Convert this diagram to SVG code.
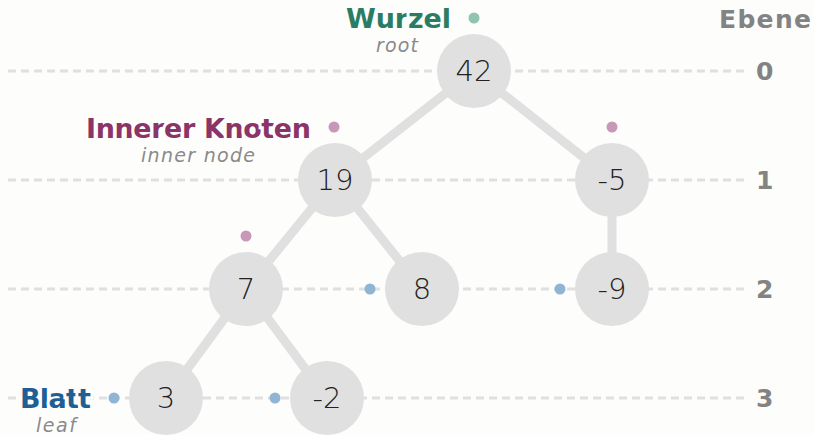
<svg xmlns="http://www.w3.org/2000/svg" width="814" height="435" viewBox="0 0 814 435">
  <style>
    .bg { fill: #fdfdfc; }
    .level { stroke: #e0e0e0; stroke-width: 3; stroke-dasharray: 8 5; fill: none; }
    .edge { stroke: #e0e0e0; stroke-width: 9; stroke-linecap: round; fill: none; }
    .node circle { fill: #e0e0e0; }
    .node text { font-family: "DejaVu Sans", "Liberation Sans", sans-serif; font-weight: 200; font-size: 29px; fill: #222; text-anchor: middle; dominant-baseline: central; }
    .lvl { font-family: "DejaVu Sans", "Liberation Sans", sans-serif; font-weight: bold; font-size: 25px; fill: #838383; dominant-baseline: central; }
    .title { font-family: "DejaVu Sans", "Liberation Sans", sans-serif; font-weight: bold; font-size: 27px; paint-order: stroke; stroke: #fdfdfc; stroke-width: 6px; }
    .sub { font-family: "DejaVu Sans", "Liberation Sans", sans-serif; font-style: italic; font-weight: 300; font-size: 19px; fill: #8a8a8a; text-anchor: middle; paint-order: stroke; stroke: #fdfdfc; stroke-width: 5px; }
    .dot-root { fill: #8fc4b0; }
    .dot-inner { fill: #c898b8; }
    .dot-leaf { fill: #8fb4d4; }
  </style>
  <rect class="bg" x="0" y="0" width="814" height="435"/>

  <!-- level guide lines -->
  <g id="levels">
    <line class="level" x1="8" y1="71" x2="745" y2="71"/>
    <line class="level" x1="8" y1="180" x2="745" y2="180"/>
    <line class="level" x1="8" y1="289" x2="745" y2="289"/>
    <line class="level" x1="8" y1="398" x2="745" y2="398"/>
    <text class="lvl" x="811" y="19" text-anchor="end" textLength="92">Ebene</text>
    <text class="lvl" x="756" y="71">0</text>
    <text class="lvl" x="756" y="180">1</text>
    <text class="lvl" x="756" y="289">2</text>
    <text class="lvl" x="756" y="398">3</text>
  </g>

  <!-- tree edges -->
  <g id="edges">
    <line class="edge" x1="474" y1="71" x2="335" y2="180"/>
    <line class="edge" x1="474" y1="71" x2="612" y2="180"/>
    <line class="edge" x1="335" y1="180" x2="246" y2="289"/>
    <line class="edge" x1="335" y1="180" x2="422" y2="289"/>
    <line class="edge" x1="612" y1="180" x2="612" y2="289"/>
    <line class="edge" x1="246" y1="289" x2="166" y2="398"/>
    <line class="edge" x1="246" y1="289" x2="327" y2="398"/>
  </g>

  <!-- nodes -->
  <g id="n42" class="node"><circle cx="474" cy="71" r="37"/><text x="474" y="71">42</text></g>
  <g id="n19" class="node"><circle cx="335" cy="180" r="37"/><text x="335" y="180">19</text></g>
  <g id="n-5" class="node"><circle cx="612" cy="180" r="37"/><text x="612" y="180">-5</text></g>
  <g id="n7" class="node"><circle cx="246" cy="289" r="37"/><text x="246" y="289">7</text></g>
  <g id="n8" class="node"><circle cx="422" cy="289" r="37"/><text x="422" y="289">8</text></g>
  <g id="n-9" class="node"><circle cx="612" cy="289" r="37"/><text x="612" y="289">-9</text></g>
  <g id="n3" class="node"><circle cx="166" cy="398" r="37"/><text x="166" y="398">3</text></g>
  <g id="n-2" class="node"><circle cx="327" cy="398" r="37"/><text x="327" y="398">-2</text></g>

  <!-- role markers -->
  <g id="markers">
    <circle class="dot-root" cx="474" cy="18" r="5.5"/>
    <circle class="dot-inner" cx="334" cy="127" r="5.5"/>
    <circle class="dot-inner" cx="612" cy="127" r="5.5"/>
    <circle class="dot-inner" cx="246" cy="236" r="5.5"/>
    <circle class="dot-leaf" cx="370" cy="289" r="5.5"/>
    <circle class="dot-leaf" cx="560" cy="289" r="5.5"/>
    <circle class="dot-leaf" cx="114" cy="398" r="5.5"/>
    <circle class="dot-leaf" cx="275" cy="398" r="5.5"/>
  </g>

  <!-- legend labels -->
  <g id="label-root">
    <text class="title" x="451" y="28" text-anchor="end" fill="#2a7d62" textLength="105">Wurzel</text>
    <text class="sub" x="397" y="52" textLength="42">root</text>
  </g>
  <g id="label-inner">
    <text class="title" x="311" y="138" text-anchor="end" fill="#8b3468" textLength="225">Innerer Knoten</text>
    <text class="sub" x="198" y="162" textLength="114">inner node</text>
  </g>
  <g id="label-leaf">
    <text class="title" x="20" y="408" fill="#1f5f94" textLength="71">Blatt</text>
    <text class="sub" x="56" y="432" textLength="40">leaf</text>
  </g>
</svg>
